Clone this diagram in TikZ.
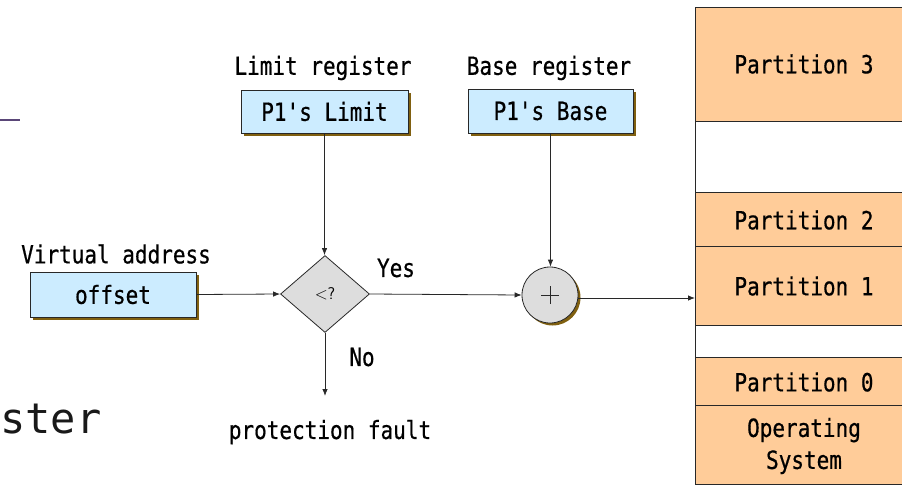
\documentclass[tikz,border=0pt]{standalone}
\usepackage{fontspec}
\usetikzlibrary{shapes.geometric,arrows.meta}
\newfontfamily\gul[FakeStretch=0.84,FakeBold=0.6]{DejaVu Sans Mono}
\newfontfamily\bigmono{DejaVu Sans Mono}
\definecolor{regblue}{RGB}{204,236,255}
\definecolor{peach}{RGB}{255,204,153}
\definecolor{shade}{RGB}{128,96,16}
\definecolor{opgray}{RGB}{221,221,221}
\definecolor{linegray}{RGB}{40,40,40}
\definecolor{slidepurple}{RGB}{90,70,120}
\tikzset{
  txt/.style={font=\gul\fontsize{25}{27}\selectfont, inner sep=0pt, text=black},
  regbox/.style={draw=linegray, line width=0.9pt, fill=regblue, inner sep=0pt,
    font=\gul\fontsize{25}{27}\selectfont,
    preaction={fill=shade, transform canvas={shift={(3pt,-3pt)}}}},
  part/.style={draw=linegray, line width=0.8pt, fill=peach},
  ptxt/.style={font=\gul\fontsize{25}{27}\selectfont, inner sep=0pt, align=center},
  conn/.style={draw=linegray, line width=0.8pt, -{Latex[length=7pt,width=5.5pt]}},
}
\begin{document}
\begin{tikzpicture}[x=1pt,y=-1pt]
\useasboundingbox (0,0) rectangle (902,485);
% slide remnants
\draw[slidepurple, line width=2pt] (0,120) -- (20,120);
\node[anchor=base west, font=\bigmono\fontsize{42}{44}\selectfont, text=black!90, inner sep=0pt] (ster) at (0,433) {ster};
% memory column
\fill[peach] (695,7) rectangle (910,121);
\draw[linegray, line width=0.8pt] (910,7) -- (695,7) -- (695,485);
\draw[linegray, line width=0.8pt] (695,121) -- (910,121);
\draw[part] (695,192) rectangle (910,246);
\draw[part] (695,246) rectangle (910,325);
\draw[part] (695,357) rectangle (910,405);
\draw[part] (695,405) rectangle (910,484);
\node[ptxt] (p3) at (804,64) {Partition 3};
\node[ptxt] (p2) at (804,220) {Partition 2};
\node[ptxt] (p1) at (804,286) {Partition 1};
\node[ptxt] (p0) at (804,382) {Partition 0};
\node[ptxt, text width=200pt] (os) at (804,446) {Operating\\[5pt]System};
\coordinate (memin) at (695,298);
% registers
\node[txt] (limlab) at (323,68) {Limit register};
\node[regbox, minimum width=167pt, minimum height=43pt] (lim) at (324.5,111.5) {P1's Limit};
\node[txt] (baselab) at (549,68) {Base register};
\node[regbox, minimum width=165pt, minimum height=44pt] (base) at (550.5,111) {P1's Base};
\node[txt] (valab) at (116,254) {Virtual address};
\node[regbox, minimum width=166pt, minimum height=45pt] (off) at (113,294.5) {offset};
% compare
\node[diamond, draw=linegray, line width=0.8pt, fill=opgray, minimum width=89pt, minimum height=77pt, inner sep=0pt, font=\sffamily\fontsize{17}{18}\selectfont] (cmp) at (325,294) {<?};
\node[circle, draw=linegray, line width=0.8pt, fill=opgray, minimum size=56pt, inner sep=0pt,
  preaction={fill=shade, transform canvas={shift={(2.5pt,-2.5pt)}}}] (add) at (550,295) {};
\draw[linegray, line width=1pt] ([xshift=-9pt]add.center) -- ([xshift=9pt]add.center)
  ([yshift=-9pt]add.center) -- ([yshift=9pt]add.center);
\node[txt] (yes) at (396,268) {Yes};
\node[txt] (no) at (362,357) {No};
\node[txt] (pf) at (330,432) {protection fault};
\coordinate (fault) at (325,396);
% connectors
\draw[conn] (off.east) -- (cmp.west);
\draw[conn] (lim.south) -- (lim.south |- cmp.north);
\draw[conn] (cmp.east) -- (add.west);
\draw[conn] (base.south) -- (base.south |- add.north);
\draw[conn] (cmp.south) -- (fault);
\draw[conn] (add.east |- memin) -- (memin);
\end{tikzpicture}
\end{document}
